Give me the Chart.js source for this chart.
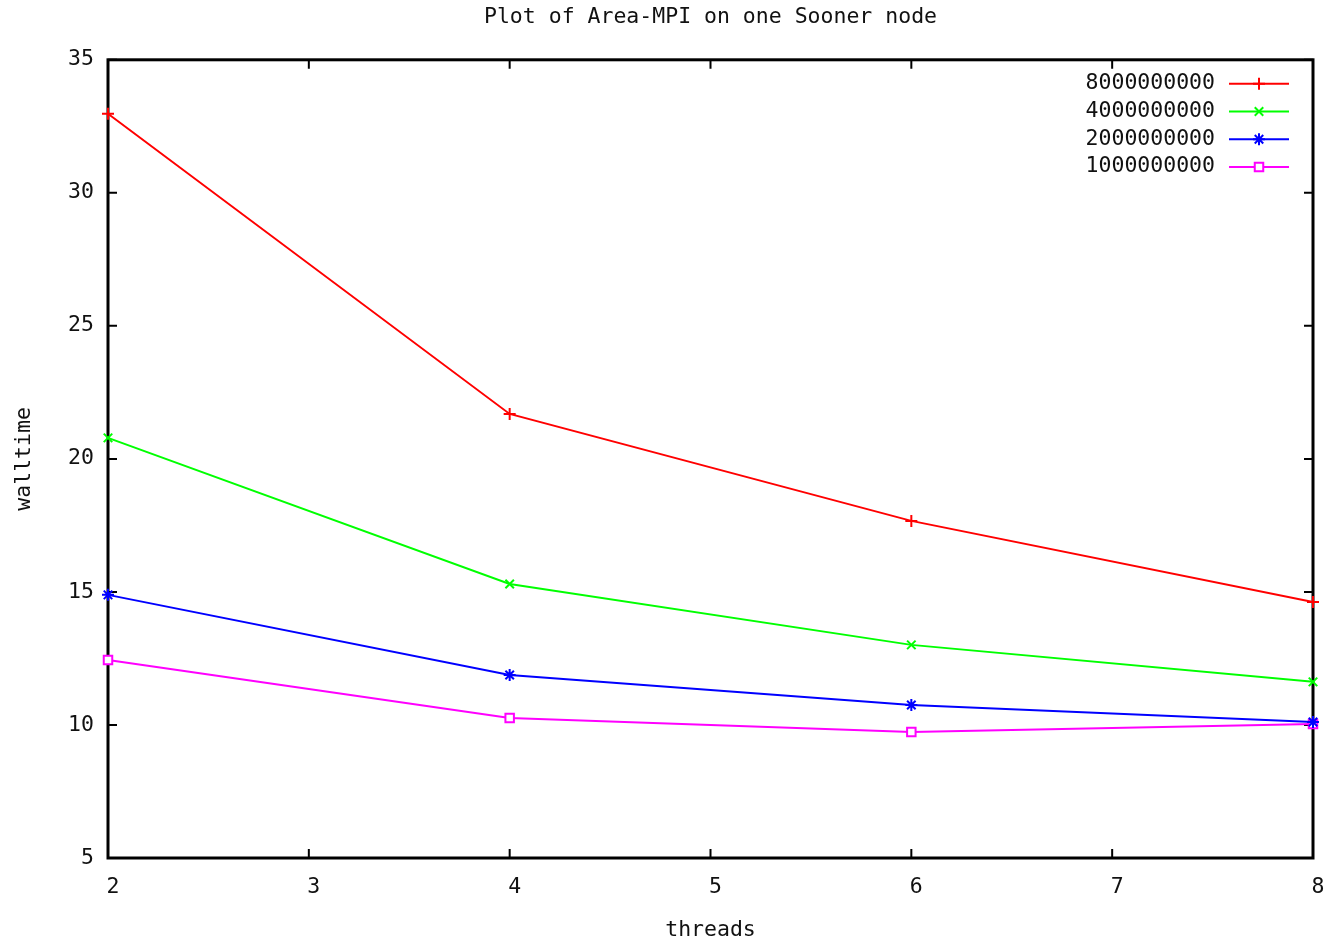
<!DOCTYPE html>
<html>
<head>
<meta charset="utf-8">
<script src="https://cdn.jsdelivr.net/npm/chart.js@4/dist/chart.umd.min.js"></script>
<style>
html, body { margin: 0; padding: 0; background: #fff; }
#caixa { width: 1326px; height: 943px; }
</style>
</head>
<body>
<div id="caixa"><canvas id="grafico-walltime"></canvas></div>
<script>
// threads usados em cada rodada
var threads = [2, 4, 6, 8];
// walltime por tamanho do problema
var tempo8000 = [32.97, 21.69, 17.67, 14.62];
var tempo4000 = [20.79, 15.30, 13.01, 11.62];
var tempo2000 = [14.89, 11.88, 10.75, 10.11];
var tempo1000 = [12.44, 10.26, 9.74, 10.04];
var rotulos = ['8000000000', '4000000000', '2000000000', '1000000000'];

var fonte = "'DejaVu Sans Mono', monospace";
var tamanho = 21.5;

function pontos(valores) {
    return threads.map(function (t, i) { return { x: t, y: valores[i] }; });
}

function serie(label, valores, cor, estilo, raio, fundo) {
    return {
        label: label,
        data: pontos(valores),
        borderColor: cor,
        backgroundColor: fundo || cor,
        borderWidth: 2,
        pointStyle: estilo,
        pointRadius: raio,
        pointBorderWidth: 2,
        pointBorderColor: cor,
        pointBackgroundColor: fundo || cor,
        tension: 0,
        clip: false
    };
}

// moldura preta com marcas de escala para dentro, nos quatro lados
var moldura = {
    id: 'moldura',
    beforeDatasetsDraw: function (chart) {
        var c = chart.ctx, a = chart.chartArea, x = chart.scales.x, y = chart.scales.y;
        c.save();
        c.strokeStyle = '#000';
        c.lineWidth = 3;
        c.strokeRect(a.left, a.top, a.right - a.left, a.bottom - a.top);
        c.lineWidth = 2;
        c.beginPath();
        y.ticks.forEach(function (t) {
            var py = y.getPixelForValue(t.value);
            c.moveTo(a.left, py); c.lineTo(a.left + 9, py);
            c.moveTo(a.right, py); c.lineTo(a.right - 9, py);
        });
        x.ticks.forEach(function (t) {
            var px = x.getPixelForValue(t.value);
            c.moveTo(px, a.bottom); c.lineTo(px, a.bottom - 9);
            c.moveTo(px, a.top); c.lineTo(px, a.top + 9);
        });
        c.stroke();
        c.restore();
    }
};

// legenda no canto superior direito: texto, depois a linha com o marcador
var legenda = {
    id: 'legenda',
    afterDatasetsDraw: function (chart) {
        var c = chart.ctx, a = chart.chartArea;
        c.save();
        c.font = tamanho + 'px ' + fonte;
        c.textAlign = 'right';
        c.textBaseline = 'middle';
        chart.data.datasets.forEach(function (ds, i) {
            var py = a.top + 24 + i * 27.7;
            c.fillStyle = '#111';
            c.fillText(ds.label, a.right - 98, py);
            c.strokeStyle = ds.borderColor;
            c.lineWidth = 2;
            c.beginPath();
            c.moveTo(a.right - 84, py);
            c.lineTo(a.right - 24, py);
            c.stroke();
            c.fillStyle = ds.pointBackgroundColor;
            Chart.helpers.drawPoint(c, {
                pointStyle: ds.pointStyle,
                radius: ds.pointRadius,
                borderWidth: 2,
                rotation: 0
            }, a.right - 54, py);
        });
        c.restore();
    }
};

var ctx = document.getElementById('grafico-walltime').getContext('2d');
var meuGrafico = new Chart(ctx, {
    type: 'line',
    data: {
        datasets: [
            serie(rotulos[0], tempo8000, '#ff0000', 'cross', 6),
            serie(rotulos[1], tempo4000, '#00ff00', 'crossRot', 6),
            serie(rotulos[2], tempo2000, '#0000ff', 'star', 6),
            serie(rotulos[3], tempo1000, '#ff00ff', 'rect', 6, '#ffffff')
        ]
    },
    options: {
        responsive: true,
        maintainAspectRatio: false,
        animation: false,
        layout: { padding: { top: 0, right: 13, bottom: 0, left: 0 } },
        plugins: {
            legend: { display: false },
            tooltip: { enabled: false },
            title: {
                display: true,
                fullSize: false, // centraliza sobre a área do gráfico
                text: 'Plot of Area-MPI on one Sooner node',
                color: '#111',
                font: { family: fonte, size: tamanho, weight: 'normal' },
                padding: { top: 5, bottom: 29 }
            }
        },
        scales: {
            x: {
                type: 'linear',
                min: 2,
                max: 8,
                afterFit: function (s) {
                    s.height = 85;
                    s.paddingLeft = 0;
                    s.paddingRight = 0;
                },
                ticks: {
                    stepSize: 1,
                    color: '#111',
                    padding: 17,
                    labelOffset: 5,
                    font: { family: fonte, size: tamanho }
                },
                grid: { display: false, drawTicks: false },
                border: { display: false },
                title: {
                    display: true,
                    text: 'threads',
                    color: '#111',
                    font: { family: fonte, size: tamanho },
                    padding: { top: 0, bottom: 0 }
                }
            },
            y: {
                min: 5,
                max: 35,
                afterFit: function (s) { s.width = 108; },
                ticks: {
                    stepSize: 5,
                    color: '#111',
                    padding: 14,
                    font: { family: fonte, size: tamanho }
                },
                grid: { display: false, drawTicks: false },
                border: { display: false },
                title: {
                    display: true,
                    text: 'walltime',
                    color: '#111',
                    font: { family: fonte, size: tamanho },
                    padding: { top: 12, bottom: 0 }
                }
            }
        }
    },
    plugins: [moldura, legenda]
});
</script>
</body>
</html>
